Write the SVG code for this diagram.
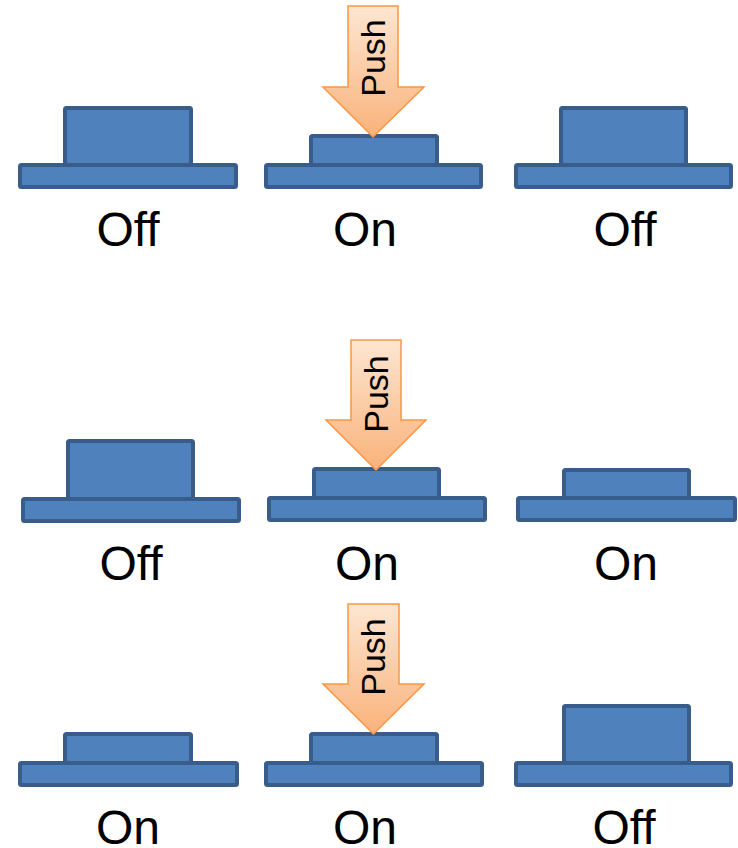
<svg xmlns="http://www.w3.org/2000/svg" width="738" height="848" viewBox="0 0 738 848">
<defs>
<linearGradient id="og" x1="0" y1="0" x2="0" y2="1">
<stop offset="0" stop-color="#fde6d2"/>
<stop offset="1" stop-color="#f9b27a"/>
</linearGradient>
<style>
.blk{fill:#4f81bd;stroke:#385d8a;stroke-width:4;stroke-linejoin:round}
.arr{fill:url(#og);stroke:#f79646;stroke-width:1.5;stroke-linejoin:miter}
.lbl{font-family:"Liberation Sans",Arial,sans-serif;font-size:48px;fill:#000;text-anchor:middle}
.push{font-family:"Liberation Sans",Arial,sans-serif;font-size:34px;fill:#000;text-anchor:middle}
</style>
</defs>
<rect width="738" height="848" fill="#fff"/>

<!-- Row 1 -->
<g id="r1-left">
<rect class="blk" x="65" y="108" width="126" height="57" rx="1.5"/>
<rect class="blk" x="20" y="165" width="216" height="22" rx="1.5"/>
<text class="lbl" x="128" y="246">Off</text>
</g>
<g id="r1-mid">
<rect class="blk" x="311" y="136" width="126" height="29" rx="1.5"/>
<rect class="blk" x="266" y="165" width="215" height="22" rx="1.5"/>
<text class="lbl" x="365" y="246">On</text>
</g>
<g id="r1-push">
<path class="arr" d="M348 6 H398 V87 H424 L373 137 L323 87 H348 Z"/>
<text class="push" transform="translate(385,58) rotate(-90)">Push</text>
</g>
<g id="r1-right">
<rect class="blk" x="561" y="108" width="125" height="57" rx="1.5"/>
<rect class="blk" x="516" y="165" width="215" height="22" rx="1.5"/>
<text class="lbl" x="625" y="246">Off</text>
</g>

<!-- Row 2 -->
<g id="r2-left">
<rect class="blk" x="68" y="441" width="125" height="58" rx="1.5"/>
<rect class="blk" x="23" y="499" width="216" height="22" rx="1.5"/>
<text class="lbl" x="131" y="580">Off</text>
</g>
<g id="r2-mid">
<rect class="blk" x="314" y="469" width="125" height="29" rx="1.5"/>
<rect class="blk" x="269" y="498" width="216" height="22" rx="1.5"/>
<text class="lbl" x="367" y="580">On</text>
</g>
<g id="r2-push">
<path class="arr" d="M351 340 H401 V420 H426 L376 470 L326 420 H351 Z"/>
<text class="push" transform="translate(388,394) rotate(-90)">Push</text>
</g>
<g id="r2-right">
<rect class="blk" x="564" y="470" width="125" height="28" rx="1.5"/>
<rect class="blk" x="518" y="498" width="217" height="22" rx="1.5"/>
<text class="lbl" x="626" y="580">On</text>
</g>

<!-- Row 3 -->
<g id="r3-left">
<rect class="blk" x="65" y="734" width="126" height="29" rx="1.5"/>
<rect class="blk" x="20" y="763" width="217" height="22" rx="1.5"/>
<text class="lbl" x="128" y="844">On</text>
</g>
<g id="r3-mid">
<rect class="blk" x="311" y="734" width="126" height="29" rx="1.5"/>
<rect class="blk" x="266" y="763" width="216" height="22" rx="1.5"/>
<text class="lbl" x="365" y="844">On</text>
</g>
<g id="r3-push">
<path class="arr" d="M348 604 H399 V684 H424 L373.5 734 L323 684 H348 Z"/>
<text class="push" transform="translate(385,657) rotate(-90)">Push</text>
</g>
<g id="r3-right">
<rect class="blk" x="564" y="706" width="125" height="57" rx="1.5"/>
<rect class="blk" x="516" y="763" width="215" height="22" rx="1.5"/>
<text class="lbl" x="624" y="844">Off</text>
</g>
</svg>
